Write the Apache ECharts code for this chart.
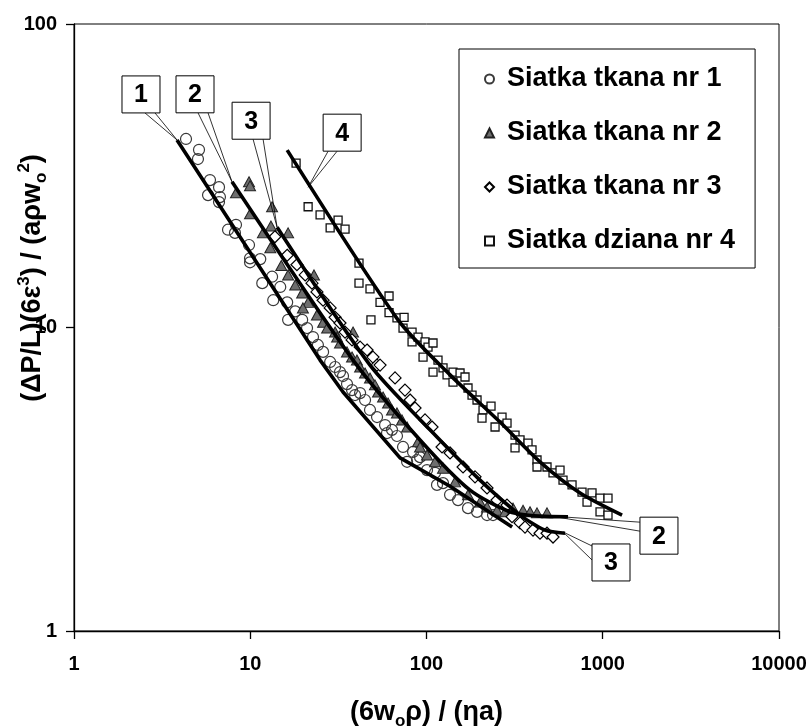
<!DOCTYPE html>
<html>
<head>
<meta charset="utf-8">
<script src="https://cdn.jsdelivr.net/npm/echarts@6/dist/echarts.min.js"></script>
<style>
  html, body { margin: 0; padding: 0; background: #fff; }
  #chart { width: 811px; height: 726px; }
</style>
</head>
<body>
<div id="chart"></div>
<script>
// Axis ticks (log scales)
const xTicks = [1, 10, 100, 1000, 10000];
const yTicks = [1, 10, 100];

const seriesNames = ['Siatka tkana nr 1', 'Siatka tkana nr 2', 'Siatka tkana nr 3', 'Siatka dziana nr 4'];

// Measurements: [(6 w0 rho)/(eta a), (dP/L)(6 eps^3)/(a rho w0^2)]
const siatka1 = [
  [4.32, 41.8], [5.12, 38.5], [5.05, 35.9], [5.91, 30.6], [5.76, 27.3], [6.65, 29.0], [6.73, 26.9],
  [6.65, 25.9], [7.48, 21.0], [8.30, 21.8], [8.19, 20.5], [9.84, 18.7], [9.97, 16.9], [11.4, 16.8],
  [9.97, 16.4], [11.7, 14.0], [13.3, 14.7], [13.5, 12.3], [14.8, 13.6], [16.2, 12.1], [16.4, 10.6],
  [18.0, 11.3], [19.7, 10.6], [21.0, 9.96], [22.7, 9.30], [24.2, 8.76], [25.9, 8.31], [28.4, 7.70],
  [30.3, 7.41], [32.3, 7.13], [33.6, 6.92], [35.4, 6.51], [37.8, 6.22], [39.3, 5.99], [42.0, 6.08],
  [44.8, 5.77], [47.8, 5.35], [52.4, 5.07], [58.2, 4.77], [59.7, 4.49], [63.7, 4.60], [68.0, 4.39],
  [73.6, 4.04], [77.6, 3.61], [83.9, 3.89], [88.4, 3.66], [91.9, 3.74], [100.7, 3.39], [111.8, 3.32],
  [114.7, 3.03], [124.1, 3.07], [136.0, 2.81], [151.0, 2.70], [172.0, 2.54], [193.5, 2.47],
  [220.5, 2.41], [238.5, 2.41]
];

const siatka2 = [
  [8.30, 27.8], [9.84, 30.2], [9.97, 29.3], [9.97, 23.7], [13.3, 25.0], [13.1, 21.6], [11.8, 20.5],
  [16.4, 20.5], [13.0, 18.3], [15.0, 16.0], [16.4, 14.9], [18.0, 13.8], [23.0, 14.9], [19.7, 13.0],
  [21.3, 12.1], [19.9, 11.6], [23.9, 11.0], [25.9, 10.4], [27.3, 9.96], [30.3, 9.66], [31.1, 9.30],
  [32.3, 8.89], [38.3, 9.66], [35.4, 8.31], [37.8, 7.99], [40.3, 7.81], [42.0, 7.41], [44.8, 7.08],
  [47.8, 6.82], [51.0, 6.47], [53.1, 6.13], [56.7, 5.90], [60.5, 5.64], [63.7, 5.35], [68.0, 5.23],
  [72.6, 4.96], [77.6, 4.70], [89.5, 4.20], [91.9, 4.04], [100.7, 3.80], [111.8, 3.61], [124.1, 3.44],
  [145.2, 3.10], [172.0, 2.81], [201.2, 2.66], [220.5, 2.56], [251.2, 2.50], [279.0, 2.47],
  [309.7, 2.54], [352.9, 2.50], [386.6, 2.47], [423.7, 2.45], [482.8, 2.45]
];

const siatka3 = [
  [13.8, 19.9], [16.2, 17.3], [18.4, 16.1], [20.5, 14.9], [22.4, 14.0], [23.9, 13.1], [25.9, 12.3],
  [28.4, 11.6], [30.3, 10.8], [32.3, 10.35], [34.5, 9.66], [37.8, 9.10], [42.0, 8.62], [46.0, 8.43],
  [49.7, 7.99], [52.4, 7.52], [54.5, 7.52], [66.3, 6.82], [75.5, 6.22], [80.7, 5.77], [86.1, 5.43],
  [98.1, 4.96], [107.5, 4.70], [122.5, 4.04], [136.0, 3.86], [161.2, 3.47], [188.5, 3.22],
  [220.5, 2.96], [251.2, 2.70], [286.3, 2.60], [305.7, 2.38], [339.4, 2.27], [362.2, 2.20],
  [402.1, 2.15], [440.6, 2.10], [482.8, 2.10], [522.2, 2.04]
];

const siatka4 = [
  [18.2, 34.8], [21.3, 25.0], [24.9, 23.5], [28.4, 21.3], [31.5, 22.6], [34.5, 21.1], [41.4, 16.3],
  [41.4, 14.0], [47.8, 13.4], [48.4, 10.6], [54.5, 12.1], [61.3, 12.7], [61.3, 11.2], [68.0, 10.75],
  [74.6, 10.8], [73.6, 9.96], [82.8, 9.66], [82.8, 8.96], [89.5, 9.30], [98.1, 8.96], [102.0, 8.62],
  [108.9, 8.89], [95.6, 7.99], [116.2, 7.81], [108.9, 7.13], [124.1, 7.36], [130.8, 6.98],
  [141.4, 7.13], [155.0, 7.08], [165.4, 6.87], [141.4, 6.61], [172.0, 6.32], [181.3, 5.99],
  [193.5, 5.77], [209.3, 5.35], [206.5, 5.03], [232.3, 5.51], [244.9, 4.70], [268.2, 5.07],
  [286.3, 4.84], [317.9, 4.42], [317.9, 4.01], [339.4, 4.26], [376.7, 4.16], [396.9, 3.95],
  [423.7, 3.66], [423.7, 3.47], [482.8, 3.47], [522.2, 3.32], [572.2, 3.39], [595.1, 3.14],
  [669.5, 3.03], [762.8, 2.87], [814.3, 2.66], [869.2, 2.85], [965.0, 2.74], [965.0, 2.47],
  [1071, 2.74], [1071, 2.41]
];

// Fitted curves
const krzywa1 = [[3.84, 41.5], [24.9, 7.81], [33.6, 6.13], [70.8, 3.72], [136.0, 3.00], [306.0, 2.20]];
const krzywa2 = [[7.88, 30.2], [38.3, 7.81], [91.9, 4.26], [176.6, 2.91], [297.8, 2.47], [440.6, 2.39], [635.4, 2.38]];
const krzywa3 = [[14.2, 21.4], [47.8, 7.52], [104.7, 4.60], [201.2, 3.14], [339.4, 2.41], [470.4, 2.15], [611.0, 2.10]];
const krzywa4 = [[16.2, 38.4], [68.9, 10.6], [136.0, 6.98], [261.3, 4.88], [440.6, 3.61], [743.2, 2.85], [1287, 2.41]];

// Numbered callouts: anchor in data units, box offset from anchor in px,
// side of the box where the pointer starts and its two base offsets
const callouts = [
  { text: '1', at: krzywa1[0], box: [-55, -64], side: 'bottom', base: [23, 33] },
  { text: '2', at: krzywa2[0], box: [-56, -106], side: 'bottom', base: [22, 32] },
  { text: '3', at: krzywa3[0], box: [-45, -125], side: 'bottom', base: [21, 31] },
  { text: '4', at: [21.3, 29.0], box: [15, -73], side: 'bottom', base: [5, 14] },
  { text: '2', at: [515, 2.39], box: [88, 1], side: 'left', base: [5, 14] },
  { text: '3', at: [595, 2.12], box: [29, 12], side: 'left', base: [2, 16] }
];

const FONT = '"Liberation Sans", Arial, Helvetica, sans-serif';
const chart = echarts.init(document.getElementById('chart'), null, { renderer: 'canvas' });

const axisCommon = {
  type: 'log',
  logBase: 10,
  axisLine: { show: true, onZero: false, lineStyle: { color: '#000', width: 1.3 } },
  axisTick: { show: true, inside: false, length: 8, lineStyle: { color: '#000', width: 1.3 } },
  minorTick: { show: false },
  splitLine: { show: false },
  minorSplitLine: { show: false }
};

const scatterBase = {
  type: 'scatter',
  emphasis: { disabled: true },
  z: 2
};

const lineBase = {
  type: 'line',
  symbol: 'none',
  showSymbol: false,
  lineStyle: { color: '#000', width: 3.6 },
  emphasis: { disabled: true },
  z: 5
};

chart.setOption({
  animation: false,
  backgroundColor: '#fff',
  grid: {
    left: 74, top: 24, right: 32, bottom: 95,
    show: true, borderColor: '#000', borderWidth: 1, backgroundColor: 'transparent',
    containLabel: false, outerBoundsMode: 'none'
  },
  xAxis: Object.assign({}, axisCommon, {
    min: xTicks[0], max: xTicks[xTicks.length - 1],
    axisLabel: {
      show: true, margin: 23, fontSize: 20, fontWeight: 'bold', fontFamily: FONT, color: '#000',
      showMinLabel: true, showMaxLabel: true, hideOverlap: false,
      formatter: v => String(Math.round(v))
    }
  }),
  yAxis: Object.assign({}, axisCommon, {
    min: yTicks[0], max: yTicks[yTicks.length - 1],
    axisLabel: {
      show: true, margin: 17, fontSize: 20, fontWeight: 'bold', fontFamily: FONT, color: '#000',
      showMinLabel: true, showMaxLabel: true, hideOverlap: false,
      formatter: v => String(Math.round(v))
    }
  }),
  legend: {
    show: true,
    orient: 'vertical',
    left: 459, top: 49,
    padding: [15, 20, 12, 25],
    itemGap: 24,
    itemWidth: 9, itemHeight: 9,
    borderColor: '#000', borderWidth: 1, borderRadius: 0,
    backgroundColor: '#fff',
    selectedMode: false,
    textStyle: { fontSize: 27, fontWeight: 'bold', fontFamily: FONT, color: '#000', lineHeight: 30, padding: [0, 0, 0, 8] },
    data: seriesNames
  },
  series: [
    Object.assign({}, scatterBase, {
      name: seriesNames[0], data: siatka1, symbol: 'circle', symbolSize: 11,
      itemStyle: { color: 'rgba(255,255,255,0)', borderColor: '#3a3a3a', borderWidth: 1.2, opacity: 1 }
    }),
    Object.assign({}, scatterBase, {
      name: seriesNames[1], data: siatka2, symbol: 'triangle', symbolSize: [11, 10],
      itemStyle: { color: '#6e6e6e', borderColor: '#222', borderWidth: 1, opacity: 1 }
    }),
    Object.assign({}, scatterBase, {
      name: seriesNames[2], data: siatka3, symbol: 'diamond', symbolSize: 12,
      itemStyle: { color: '#fff', borderColor: '#000', borderWidth: 1.2, opacity: 1 }
    }),
    Object.assign({}, scatterBase, {
      name: seriesNames[3], data: siatka4, symbol: 'rect', symbolSize: 8,
      itemStyle: { color: '#fff', borderColor: '#111', borderWidth: 1.3, opacity: 1 }
    }),
    Object.assign({}, lineBase, { name: 'Krzywa 1', data: krzywa1, smooth: false }),
    Object.assign({}, lineBase, { name: 'Krzywa 2', data: krzywa2, smooth: 0.25 }),
    Object.assign({}, lineBase, { name: 'Krzywa 3', data: krzywa3, smooth: 0.25 }),
    Object.assign({}, lineBase, { name: 'Krzywa 4', data: krzywa4, smooth: 0.25 })
  ]
});

// Axis titles and numbered callouts
const richBase = { fontSize: 27, fontWeight: 'bold', fontFamily: FONT, fill: '#000', color: '#000', lineHeight: 34, verticalAlign: 'middle' };
const richSup = { fontSize: 17, fontWeight: 'bold', fontFamily: FONT, fill: '#000', color: '#000', lineHeight: 16, verticalAlign: 'top' };
const richSub = { fontSize: 17, fontWeight: 'bold', fontFamily: FONT, fill: '#000', color: '#000', lineHeight: 14, verticalAlign: 'bottom' };

const graphics = [
  {
    type: 'text', x: 426.5, y: 713, silent: true, z: 10,
    style: {
      text: '{b|(6w}{sub|o}{b|ρ) / (ηa)}',
      rich: { b: richBase, sub: richSub, sup: richSup },
      align: 'center', verticalAlign: 'middle'
    }
  },
  {
    type: 'text', x: 33, y: 278, rotation: Math.PI / 2, silent: true, z: 1,
    style: {
      text: '{b|(ΔP/L)(6ε}{sup|3}{b|) / (aρw}{sub|o}{sup|2}{b|)}',
      rich: { b: richBase, sub: richSub, sup: richSup },
      align: 'center', verticalAlign: 'middle'
    }
  }
];

const BOX_W = 38, BOX_H = 37;
callouts.forEach(c => {
  const p = chart.convertToPixel({ gridIndex: 0 }, c.at);
  const bx = p[0] + c.box[0];
  const by = p[1] + c.box[1];
  let b1, b2;
  if (c.side === 'bottom') {
    b1 = [bx + c.base[0], by + BOX_H];
    b2 = [bx + c.base[1], by + BOX_H];
  } else {
    b1 = [bx, by + c.base[0]];
    b2 = [bx, by + c.base[1]];
  }
  graphics.push({
    type: 'polyline', silent: true, z: 20,
    shape: { points: [b1, p, b2] },
    style: { stroke: '#000', lineWidth: 0.8, fill: null }
  });
  graphics.push({
    type: 'rect', silent: true, z: 21,
    shape: { x: bx, y: by, width: BOX_W, height: BOX_H },
    style: { fill: '#fff', stroke: '#000', lineWidth: 1 }
  });
  graphics.push({
    type: 'text', silent: true, z: 22,
    x: bx + BOX_W / 2, y: by + BOX_H / 2 + 1,
    style: {
      text: c.text, fill: '#000',
      font: 'bold 25px ' + FONT,
      align: 'center', verticalAlign: 'middle'
    }
  });
});

chart.setOption({ graphic: graphics });
</script>
</body>
</html>
